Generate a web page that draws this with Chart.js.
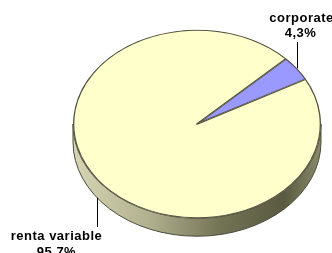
<!DOCTYPE html>
<html>
<head>
<meta charset="utf-8">
<script src="https://cdn.jsdelivr.net/npm/chart.js@4"></script>
<style>
  html, body { margin: 0; padding: 0; background: #fff; }
  #wrap { position: relative; width: 332px; height: 253px; }
</style>
</head>
<body>
<div id="wrap"><canvas id="c"></canvas></div>
<script>
const labels = ['corporate', 'renta variable'];
const percents = [4.3, 95.7];
const percentLabels = ['4,3%', '95,7%'];
const sliceColors = ['#9999ff', '#ffffcc'];

const TILT = 0.76;   // vertical squash of the pie face
const DEPTH = 18;    // thickness of the 3D rim

// squash the pie into an ellipse and draw a rim under it
const tiltPlugin = {
  id: 'tilt',
  beforeDatasetsDraw(chart) {
    const arc = chart.getDatasetMeta(0).data[0];
    const { x, y, outerRadius } = arc;
    const ctx = chart.ctx;
    const ry = outerRadius * TILT;
    ctx.save();
    const grad = ctx.createLinearGradient(x - outerRadius, 0, x + outerRadius, 0);
    grad.addColorStop(0, '#d6d6b4');
    grad.addColorStop(0.3, '#b2b290');
    grad.addColorStop(0.6, '#727254');
    grad.addColorStop(0.85, '#5a5a42');
    grad.addColorStop(1, '#8a8a6a');
    ctx.beginPath();
    ctx.ellipse(x, y + DEPTH, outerRadius, ry, 0, 0, Math.PI);
    ctx.ellipse(x, y, outerRadius, ry, 0, Math.PI, 0, true);
    ctx.closePath();
    ctx.fillStyle = grad;
    ctx.fill();
    ctx.strokeStyle = '#4a4a3a';
    ctx.lineWidth = 1;
    ctx.stroke();
    ctx.translate(x, y);
    ctx.scale(1, TILT);
    ctx.translate(-x, -y);
  },
  afterDatasetsDraw(chart) {
    chart.ctx.restore();
  },
  afterDraw(chart) {
    const ctx = chart.ctx;
    const meta = chart.getDatasetMeta(0);
    ctx.save();
    ctx.font = 'bold 13px "Liberation Sans", Arial, sans-serif';
    ctx.letterSpacing = '0.5px';
    ctx.fillStyle = '#000';
    ctx.strokeStyle = '#000';
    ctx.lineWidth = 1;
    ctx.textAlign = 'center';
    meta.data.forEach((arc, i) => {
      const mid = (arc.startAngle + arc.endAngle) / 2;
      let px = Math.round(arc.x + arc.outerRadius * Math.cos(mid)) + 0.5;
      let py = arc.y + arc.outerRadius * TILT * Math.sin(mid);
      if (Math.sin(mid) < 0) {
        ctx.beginPath();
        ctx.moveTo(px, py);
        ctx.lineTo(px, 42);
        ctx.stroke();
        ctx.fillText(labels[i], px + 4, 22);
        ctx.fillText(percentLabels[i], px + 3, 37);
      } else {
        py += DEPTH;
        ctx.beginPath();
        ctx.moveTo(px, py);
        ctx.lineTo(px, 227);
        ctx.stroke();
        ctx.fillText(labels[i], px - 41, 240);
        ctx.fillText(percentLabels[i], px - 41, 256);
      }
    });
    ctx.restore();
  }
};

new Chart(document.getElementById('c'), {
  type: 'pie',
  data: {
    labels: labels,
    datasets: [{
      data: percents,
      backgroundColor: sliceColors,
      borderColor: '#555544',
      borderWidth: 1,
      borderAlign: 'inner'
    }]
  },
  options: {
    responsive: true,
    maintainAspectRatio: false,
    animation: false,
    rotation: 46,
    events: [],
    layout: { padding: { left: 72, right: 10, top: 0, bottom: 5 } },
    plugins: {
      legend: { display: false },
      tooltip: { enabled: false }
    }
  },
  plugins: [tiltPlugin]
});
</script>
</body>
</html>
